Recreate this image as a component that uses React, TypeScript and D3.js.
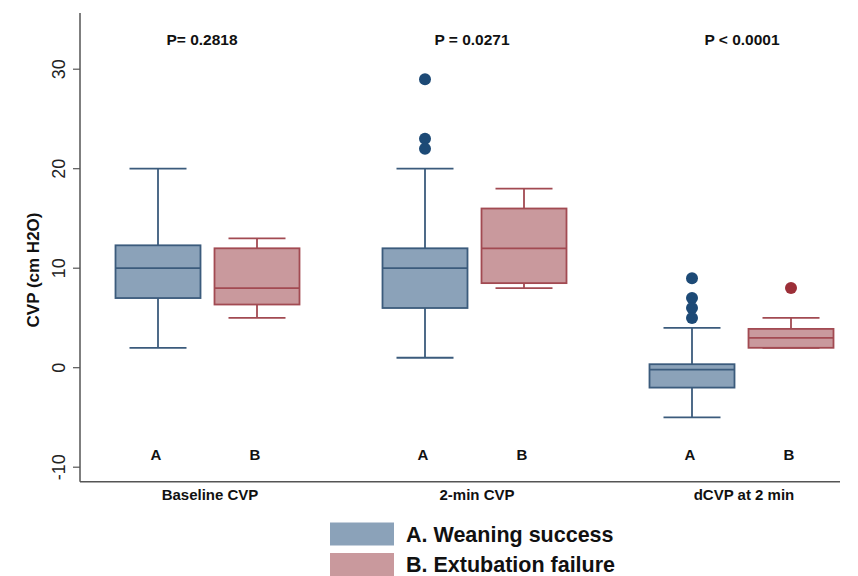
import React from "react";
import { scaleLinear, scalePoint } from "d3";

// groups and p-values
const categories = ["Baseline CVP", "2-min CVP", "dCVP at 2 min"];
const pValues = ["P= 0.2818", "P = 0.0271", "P < 0.0001"];
const yTicks = [-10, 0, 10, 20, 30];

// box statistics per category: [lowerWhisker, q1, median, q3, upperWhisker]
const weaningStats = [
    [2, 7, 10, 12.3, 20],
    [1, 6, 10, 12, 20],
    [-5, -2, -0.2, 0.35, 4],
];
const failureStats = [
    [5, 6.35, 8, 12, 13],
    [8, 8.5, 12, 16, 18],
    [2, 2, 3, 3.9, 5],
];
const weaningOutliers = [[], [29, 23, 22], [9, 7, 6, 5]];
const failureOutliers = [[], [], [8]];

const groups = [
    {
        key: "A",
        label: "A. Weaning success",
        stats: weaningStats,
        outliers: weaningOutliers,
        fill: "#8ba2b9",
        stroke: "#3b5b7c",
        dot: "#1d4a76",
        offset: -50,
    },
    {
        key: "B",
        label: "B. Extubation failure",
        stats: failureStats,
        outliers: failureOutliers,
        fill: "#c9999d",
        stroke: "#a24a52",
        dot: "#9c2f38",
        offset: 49,
    },
];

const W = 858;
const H = 576;
const left = 80;
const right = 840;

export default function App() {
    const y = scaleLinear().domain([0, 30]).range([367.7, 69.2]);
    const x = scalePoint<string>().domain(categories).range([208, 742]);
    const boxW = 85;
    const capW = 57;
    const font = "'Liberation Sans', Arial, Helvetica, sans-serif";

    return (
        <svg
            width={W}
            height={H}
            style={{ position: "absolute", left: 0, top: 0, background: "#fff" }}
            fontFamily={font}
        >
            {/* axes */}
            <line x1={left} x2={left} y1={13} y2={481.7} stroke="#555" strokeWidth={1.5} />
            <line x1={left} x2={right} y1={481.7} y2={481.7} stroke="#555" strokeWidth={1.5} />
            {yTicks.map(t => (
                <g key={t}>
                    <line x1={left - 7} x2={left} y1={y(t)} y2={y(t)} stroke="#555" strokeWidth={1.2} />
                    <text
                        transform={`translate(65,${y(t)}) rotate(-90)`}
                        textAnchor="middle"
                        fontSize={18}
                        fill="#222"
                    >
                        {t}
                    </text>
                </g>
            ))}
            <text
                transform={`translate(39,270) rotate(-90)`}
                textAnchor="middle"
                fontSize={17}
                fontWeight="bold"
                fill="#111"
            >
                CVP (cm H2O)
            </text>

            {categories.map((c, i) => {
                const cx = x(c)!;
                return (
                    <g key={c}>
                        <text x={cx - 6 + i * 3} y={45} textAnchor="middle" fontSize={15.5} fontWeight="bold" fill="#111">
                            {pValues[i]}
                        </text>
                        <text x={cx + 2} y={500} textAnchor="middle" fontSize={15} fontWeight="bold" fill="#111">
                            {c}
                        </text>
                        {groups.map(g => {
                            const [lo, q1, med, q3, hi] = g.stats[i];
                            const bx = cx + g.offset;
                            return (
                                <g key={g.key}>
                                    <line x1={bx} x2={bx} y1={y(hi)} y2={y(q3)} stroke={g.stroke} strokeWidth={1.8} />
                                    <line x1={bx} x2={bx} y1={y(q1)} y2={y(lo)} stroke={g.stroke} strokeWidth={1.8} />
                                    <line x1={bx - capW / 2} x2={bx + capW / 2} y1={y(hi)} y2={y(hi)} stroke={g.stroke} strokeWidth={1.8} />
                                    <line x1={bx - capW / 2} x2={bx + capW / 2} y1={y(lo)} y2={y(lo)} stroke={g.stroke} strokeWidth={1.8} />
                                    <rect
                                        x={bx - boxW / 2}
                                        y={y(q3)}
                                        width={boxW}
                                        height={y(q1) - y(q3)}
                                        fill={g.fill}
                                        stroke={g.stroke}
                                        strokeWidth={1.8}
                                    />
                                    <line x1={bx - boxW / 2} x2={bx + boxW / 2} y1={y(med)} y2={y(med)} stroke={g.stroke} strokeWidth={1.8} />
                                    {g.outliers[i].map((o, k) => (
                                        <circle key={k} cx={bx} cy={y(o)} r={6} fill={g.dot} />
                                    ))}
                                    <text x={bx - 2} y={460} textAnchor="middle" fontSize={15} fontWeight="bold" fill="#111">
                                        {g.key}
                                    </text>
                                </g>
                            );
                        })}
                    </g>
                );
            })}

            {/* legend */}
            {groups.map((g, i) => (
                <g key={g.key} transform={`translate(330,${522.5 + i * 30.5})`}>
                    <rect x={0} y={0} width={64} height={23} fill={g.fill} />
                    <text x={76} y={19} fontSize={21.5} fontWeight="bold" fill="#111">
                        {g.label}
                    </text>
                </g>
            ))}
        </svg>
    );
}
